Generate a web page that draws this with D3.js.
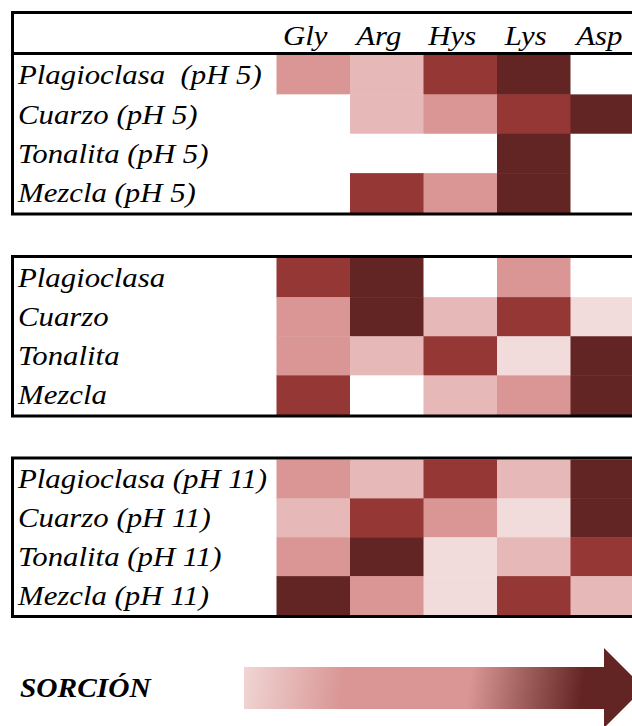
<!DOCTYPE html>
<html>
<head>
<meta charset="utf-8">
<script src="https://cdn.jsdelivr.net/npm/d3@7"></script>
<style>
  html, body { margin: 0; padding: 0; background: #fff; }
  svg { display: block; }
</style>
</head>
<body>
<svg id="chart" width="632" height="726"></svg>
<script>
// ---- data ----
const aminoAcids = ["Gly", "Arg", "Hys", "Lys", "Asp"];

const rowsPH5  = ["Plagioclasa  (pH 5)", "Cuarzo (pH 5)", "Tonalita (pH 5)", "Mezcla (pH 5)"];
const rowsMid  = ["Plagioclasa", "Cuarzo", "Tonalita", "Mezcla"];
const rowsPH11 = ["Plagioclasa (pH 11)", "Cuarzo (pH 11)", "Tonalita (pH 11)", "Mezcla (pH 11)"];

// sorption level per cell (0 = none ... 5 = highest), columns in aminoAcids order
const levelsPH5 = [
  [3, 2, 4, 5, 0],
  [0, 2, 3, 4, 5],
  [0, 0, 0, 5, 0],
  [0, 4, 3, 5, 0]
];
const levelsMid = [
  [4, 5, 0, 3, 0],
  [3, 5, 2, 4, 1],
  [3, 2, 4, 1, 5],
  [4, 0, 2, 3, 5]
];
const levelsPH11 = [
  [3, 2, 4, 2, 5],
  [2, 4, 3, 1, 5],
  [3, 5, 1, 2, 4],
  [5, 3, 1, 4, 2]
];

const levelDomain = [0, 1, 2, 3, 4, 5];
const levelColors = ["#FFFFFF", "#F2DCDB", "#E6B9B8", "#D99694", "#953735", "#632523"];

const legendLabel = "SORCIÓN";

// ---- drawing ----
const FONT = "'Liberation Serif', 'DejaVu Serif', serif";
const svg = d3.select("#chart");
const color = d3.scaleOrdinal().domain(levelDomain).range(levelColors);
const x = d3.scaleBand().domain(aminoAcids).range([276.5, 644]).padding(0);

const tables = [
  { rows: rowsPH5,  levels: levelsPH5,  boxTop: 12.5, header: true,  cellTop: 55,    cellBottom: 212.5, boxBottom: 214 },
  { rows: rowsMid,  levels: levelsMid,  boxTop: 256.5, header: false, cellTop: 258,   cellBottom: 414.5, boxBottom: 416 },
  { rows: rowsPH11, levels: levelsPH11, boxTop: 458,  header: false, cellTop: 459.5, cellBottom: 615,   boxBottom: 616.5 }
];

const fontSize = 28;
const stretchX = 1.1;

tables.forEach(t => {
  const g = svg.append("g");
  const y = d3.scaleBand().domain(t.rows).range([t.cellTop, t.cellBottom]);
  const cells = [];
  t.rows.forEach((r, i) => aminoAcids.forEach((a, j) => cells.push({ row: r, col: a, v: t.levels[i][j] })));

  g.selectAll("rect.cell").data(cells).join("rect")
    .attr("class", "cell")
    .attr("x", d => x(d.col))
    .attr("y", d => y(d.row))
    .attr("width", x.bandwidth() + 0.5)
    .attr("height", y.bandwidth() + 0.5)
    .attr("fill", d => color(d.v));

  g.selectAll("text.rowlab").data(t.rows).join("text")
    .attr("class", "rowlab")
    .attr("transform", d => `translate(18,${y(d) + y.bandwidth() * 0.74}) scale(${stretchX},1)`)
    .attr("font-family", FONT)
    .attr("font-style", "italic")
    .attr("font-size", fontSize)
    .attr("fill", "#000")
    .style("white-space", "pre")
    .text(d => d);

  if (t.header) {
    g.selectAll("text.colhead").data(aminoAcids).join("text")
      .attr("class", "colhead")
      .attr("transform", d => `translate(${x(d) + x.bandwidth() / 2 - 8},45) scale(${stretchX},1)`)
      .attr("text-anchor", "middle")
      .attr("font-family", FONT)
      .attr("font-style", "italic")
      .attr("font-size", fontSize)
      .attr("fill", "#000")
      .text(d => d);
    g.append("line")
      .attr("x1", 12.5).attr("x2", 700)
      .attr("y1", 53.5).attr("y2", 53.5)
      .attr("stroke", "#000").attr("stroke-width", 3);
  }

  g.append("rect")
    .attr("x", 12.5)
    .attr("y", t.boxTop)
    .attr("width", 700)
    .attr("height", t.boxBottom - t.boxTop)
    .attr("fill", "none")
    .attr("stroke", "#000")
    .attr("stroke-width", 3);
});

// legend arrow
const defs = svg.append("defs");
const grad = defs.append("linearGradient")
  .attr("id", "sorcion")
  .attr("gradientUnits", "userSpaceOnUse")
  .attr("x1", 244).attr("y1", 660)
  .attr("x2", 644).attr("y2", 716);
[
  [0.00, "#F0D6D5"],
  [0.25, "#D99694"],
  [0.56, "#D99694"],
  [0.84, "#632523"],
  [1.00, "#632523"]
].forEach(([o, c]) => grad.append("stop").attr("offset", o).attr("stop-color", c));

const arrow = d3.path();
arrow.moveTo(244, 667);
arrow.lineTo(604, 667);
arrow.lineTo(604, 648);
arrow.lineTo(644, 688);
arrow.lineTo(604, 728);
arrow.lineTo(604, 709);
arrow.lineTo(244, 709);
arrow.closePath();
svg.append("path").attr("d", arrow.toString()).attr("fill", "url(#sorcion)");

svg.append("text")
  .attr("transform", `translate(20,697) scale(1.05,1)`)
  .attr("font-family", FONT)
  .attr("font-style", "italic")
  .attr("font-size", 28)
  .attr("font-weight", "bold")
  .attr("fill", "#000")
  .text(legendLabel);
</script>
</body>
</html>
